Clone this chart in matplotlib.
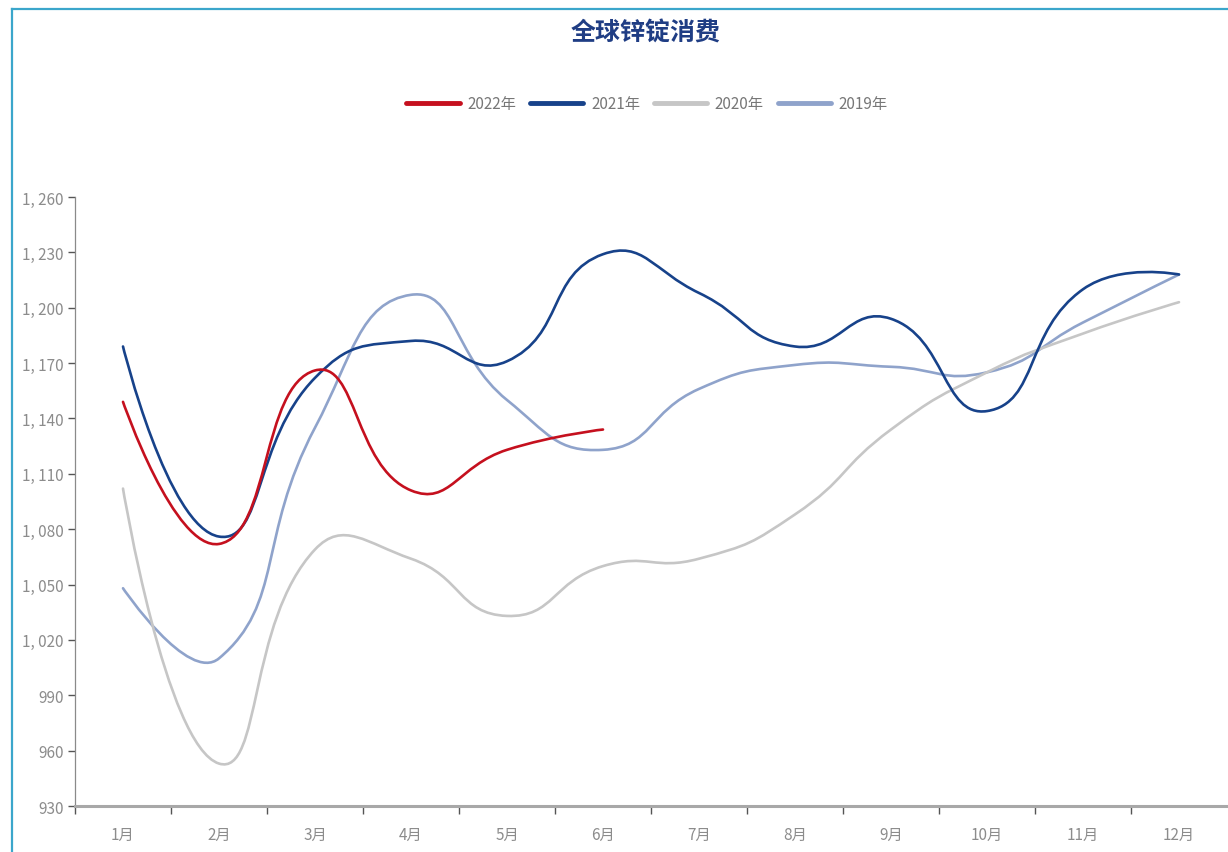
import numpy as np
import matplotlib.pyplot as plt
from matplotlib.path import Path
from matplotlib.patches import PathPatch
from matplotlib.lines import Line2D
from matplotlib.ticker import FixedLocator, FuncFormatter, NullFormatter

plt.rcParams['font.family'] = ['Noto Sans CJK SC', 'DejaVu Sans']

# monthly global zinc ingot consumption (kt)
months = [f'{i}月' for i in range(1, 13)]
y2022 = [1149, 1072, 1166, 1101, 1123, 1134]
y2021 = [1179, 1076, 1162, 1182, 1171, 1229, 1208, 1179, 1194, 1144, 1210, 1218]
y2020 = [1102, 953, 1069, 1064, 1033, 1060, 1064, 1088, 1134, 1165, 1186, 1203]
y2019 = [1048, 1010, 1135, 1207, 1150, 1123, 1156, 1169, 1168, 1165, 1192, 1218]

series = [
    ('2019年', y2019, '#8fa3cb'),
    ('2020年', y2020, '#c6c6c6'),
    ('2021年', y2021, '#17428a'),
    ('2022年', y2022, '#c5101e'),
]
legend_order = ['2022年', '2021年', '2020年', '2019年']


def smooth_path(ax, xs, ys, smooth=0.5):
    """Cubic Bezier path through the points, control points weighted by screen distance."""
    pts = np.column_stack([xs, ys]).astype(float)
    disp = ax.transData.transform(pts)
    n = len(pts)
    cp_in = pts.copy()
    cp_out = pts.copy()
    for i in range(1, n - 1):
        v = (pts[i + 1] - pts[i - 1]) * smooth
        d0 = np.hypot(*(disp[i] - disp[i - 1]))
        d1 = np.hypot(*(disp[i + 1] - disp[i]))
        s = d0 + d1
        if s:
            cp_in[i] = pts[i] - v * d0 / s
            cp_out[i] = pts[i] + v * d1 / s
    verts = [pts[0]]
    codes = [Path.MOVETO]
    for i in range(n - 1):
        verts += [cp_out[i], cp_in[i + 1], pts[i + 1]]
        codes += [Path.CURVE4] * 3
    return Path(verts, codes)


fig = plt.figure(figsize=(12.28, 8.53), dpi=100)
ax = fig.add_axes([75 / 1228, 46 / 853, 1152 / 1228, 609 / 853])
ax.set_xlim(-0.5, 11.5)
ax.set_ylim(930, 1260)

for label, vals, color in series:
    path = smooth_path(ax, np.arange(len(vals)), vals)
    ax.add_patch(PathPatch(path, fill=False, edgecolor=color, lw=1.9,
                           capstyle='round', joinstyle='round'))

# axes styling
for side in ('top', 'right'):
    ax.spines[side].set_visible(False)
ax.spines['left'].set_color('#8a8a8a')
ax.spines['left'].set_linewidth(0.9)
ax.spines['bottom'].set_color('#a8a8a8')
ax.spines['bottom'].set_linewidth(2.2)

ax.set_yticks(np.arange(930, 1261, 30))
ax.yaxis.set_major_formatter(FuncFormatter(lambda v, p: f'{int(v):,}'.replace(',', ', ')))
ax.tick_params(axis='y', direction='out', length=5, width=1, color='#555555',
               labelcolor='#8c8c8c', labelsize=11, pad=3)

ax.xaxis.set_major_locator(FixedLocator(np.arange(-0.5, 11.0, 1)))
ax.xaxis.set_major_formatter(NullFormatter())
ax.xaxis.set_minor_locator(FixedLocator(np.arange(12)))
ax.set_xticklabels(months, minor=True)
ax.tick_params(axis='x', which='major', direction='out', length=6, width=1, color='#555555')
ax.tick_params(axis='x', which='minor', length=0, labelcolor='#8c8c8c', labelsize=11, pad=14)

fig.text(646 / 1228, 1 - 33 / 853, '全球锌锭消费', ha='center', va='center',
         fontsize=18, fontweight='bold', color='#1f3d84')

colors = {label: color for label, _, color in series}
handles = [Line2D([], [], color=colors[l], lw=3.5, solid_capstyle='round') for l in legend_order]
fig.legend(handles, legend_order, loc='center', bbox_to_anchor=(647 / 1228, 1 - 105 / 853),
           ncol=4, frameon=False, fontsize=11, labelcolor='#777777',
           handlelength=3.5, handletextpad=0.5, columnspacing=0.9)

# frame lines along the top and left edges
fig.add_artist(Line2D([12 / 1228, 1], [1 - 10 / 853, 1 - 10 / 853], color='#3ba6cb', lw=1.6))
fig.add_artist(Line2D([12 / 1228, 12 / 1228], [0, 1 - 10 / 853], color='#3ba6cb', lw=1.6))

fig.savefig('out.png', dpi=100)
